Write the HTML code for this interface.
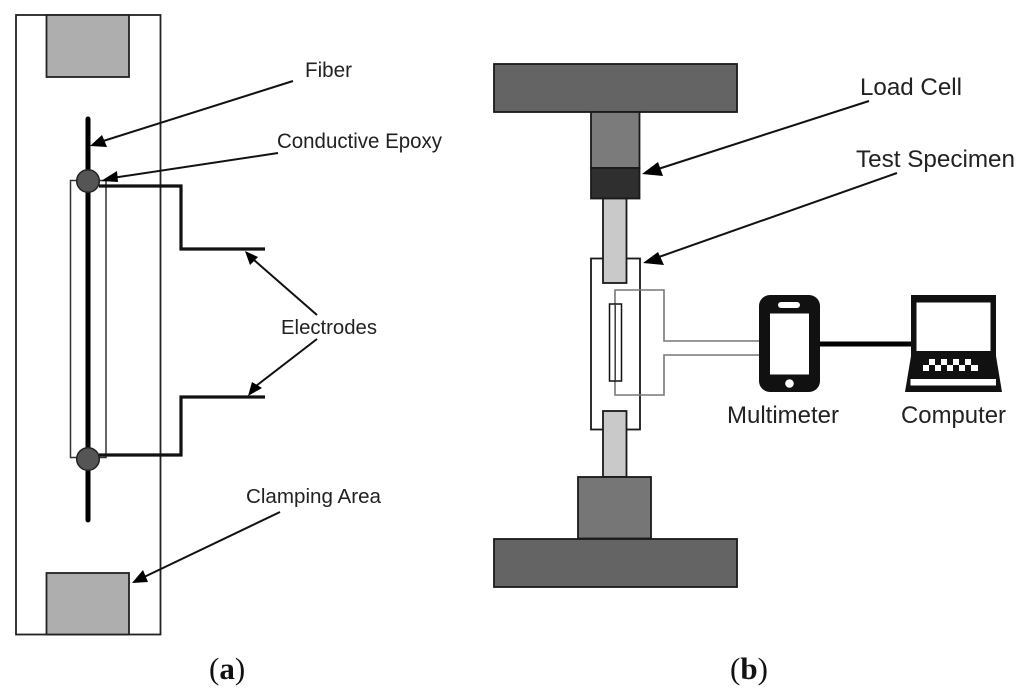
<!DOCTYPE html>
<html>
<head>
<meta charset="utf-8">
<style>
html,body{margin:0;padding:0;background:#fff;}
svg{display:block;filter:blur(.35px);}
text{font-family:"Liberation Sans",sans-serif;fill:#222;}
.cap{font-family:"Liberation Serif",serif;font-size:31px;fill:#111;}
</style>
</head>
<body>
<svg width="1024" height="696" viewBox="0 0 1024 696" xmlns="http://www.w3.org/2000/svg">
<rect width="1024" height="696" fill="#fff"/>

<!-- (a) -->
<g stroke="#222" fill="none">
<rect x="16" y="15" width="144.500" height="619.500" stroke-width="1.800"/>
<rect x="46.500" y="15" width="82.500" height="62" fill="#aeaeae" stroke-width="1.800"/>
<rect x="46.500" y="573" width="82.500" height="61.500" fill="#aeaeae" stroke-width="1.800"/>
<rect x="70.500" y="180.500" width="35.500" height="277" stroke-width="1.500" stroke="#333"/>
<path d="M99 186H181V249H265" stroke="#111" stroke-width="3.200"/>
<path d="M99 455H181V397H265" stroke="#111" stroke-width="3.200"/>
<line x1="88" y1="119" x2="88" y2="520" stroke="#000" stroke-width="5" stroke-linecap="round"/>
<circle cx="88" cy="181" r="11.300" fill="#555" stroke-width="1.500"/>
<circle cx="88" cy="459" r="11.300" fill="#555" stroke-width="1.500"/>
</g>

<!-- leaders -->
<g stroke="#111" stroke-width="2" fill="none">
<line x1="293" y1="81" x2="100" y2="142"/>
<line x1="278" y1="153" x2="112" y2="178"/>
<line x1="317" y1="315" x2="254" y2="260"/>
<line x1="317" y1="339" x2="256" y2="386"/>
<line x1="280" y1="512" x2="142" y2="578"/>
<line x1="869" y1="101" x2="655" y2="170"/>
<line x1="897" y1="173" x2="656" y2="258"/>
</g>
<g fill="#000">
<polygon points="90,146 102,135 107,147"/>
<polygon points="101,181 117,171 118,182"/>
<polygon points="245,251 258,257 250,265"/>
<polygon points="248,396 252,382 262,388"/>
<polygon points="132,583 143,570 148,582"/>
<polygon points="642,174 658,162 663,176"/>
<polygon points="643,263 658,252 664,265"/>
</g>

<!-- (b) frame -->
<g stroke="#1a1a1a" stroke-width="1.800">
<rect x="494" y="64" width="243" height="48" fill="#646464"/>
<rect x="494" y="539" width="243" height="48" fill="#646464"/>
<rect x="591" y="112" width="48.500" height="56" fill="#7b7b7b"/>
<rect x="591" y="168" width="48.500" height="30.500" fill="#2f2f2f"/>
<rect x="591" y="258.500" width="49" height="171" fill="#fff"/>
<rect x="603" y="198.500" width="23.500" height="84.500" fill="#c9c9c9"/>
<rect x="603" y="411" width="23.500" height="66" fill="#c9c9c9"/>
<rect x="578" y="477" width="73" height="61.500" fill="#767676"/>
</g>

<!-- electrode outline -->
<path d="M760 341H664V290H615V395H664V355H760" fill="none" stroke="#777" stroke-width="1.600"/>
<rect x="609.500" y="304" width="12" height="77" fill="none" stroke="#111" stroke-width="1.500"/>
<line x1="615.500" y1="304" x2="615.500" y2="381" stroke="#444" stroke-width="1"/>

<!-- multimeter -->
<rect x="759" y="295" width="61" height="97" rx="11" fill="#111"/>
<rect x="770" y="313.500" width="39" height="61" fill="#fff"/>
<rect x="778" y="302" width="22" height="6" rx="3" fill="#fff"/>
<circle cx="789.500" cy="383.500" r="4.300" fill="#fff"/>

<line x1="820" y1="344" x2="916" y2="344" stroke="#000" stroke-width="5"/>

<!-- computer -->
<polygon points="911,295 996,295 996,356 1002,392 905,392 911,356" fill="#111"/>
<rect x="916.500" y="302.500" width="74" height="48.500" fill="#fff"/>
<rect x="910.500" y="379" width="85.500" height="6.500" fill="#fff"/>
<g fill="#fff">
<rect x="923" y="365" width="6" height="6"/><rect x="935" y="365" width="6" height="6"/><rect x="947" y="365" width="6" height="6"/><rect x="959" y="365" width="6" height="6"/><rect x="971" y="365" width="7" height="6"/>
<rect x="929" y="359" width="6" height="6"/><rect x="941" y="359" width="6" height="6"/><rect x="953" y="359" width="6" height="6"/><rect x="965" y="359" width="6" height="6"/>
</g>

<!-- labels -->
<text x="305" y="77" font-size="21" textLength="47" lengthAdjust="spacingAndGlyphs">Fiber</text>
<text x="277" y="148" font-size="21.500" textLength="165" lengthAdjust="spacingAndGlyphs">Conductive Epoxy</text>
<text x="281" y="334" font-size="20.500" textLength="96" lengthAdjust="spacingAndGlyphs">Electrodes</text>
<text x="246" y="503" font-size="20.500" textLength="135" lengthAdjust="spacingAndGlyphs">Clamping Area</text>
<text x="860" y="95" font-size="24" textLength="102" lengthAdjust="spacingAndGlyphs">Load Cell</text>
<text x="856" y="167" font-size="24" textLength="159" lengthAdjust="spacingAndGlyphs">Test Specimen</text>
<text x="727" y="423" font-size="24" textLength="112" lengthAdjust="spacingAndGlyphs">Multimeter</text>
<text x="901" y="423" font-size="24" textLength="105" lengthAdjust="spacingAndGlyphs">Computer</text>

<text class="cap" x="209" y="679">(<tspan font-weight="bold">a</tspan>)</text>
<text class="cap" x="730" y="679">(<tspan font-weight="bold">b</tspan>)</text>
</svg>
</body>
</html>
